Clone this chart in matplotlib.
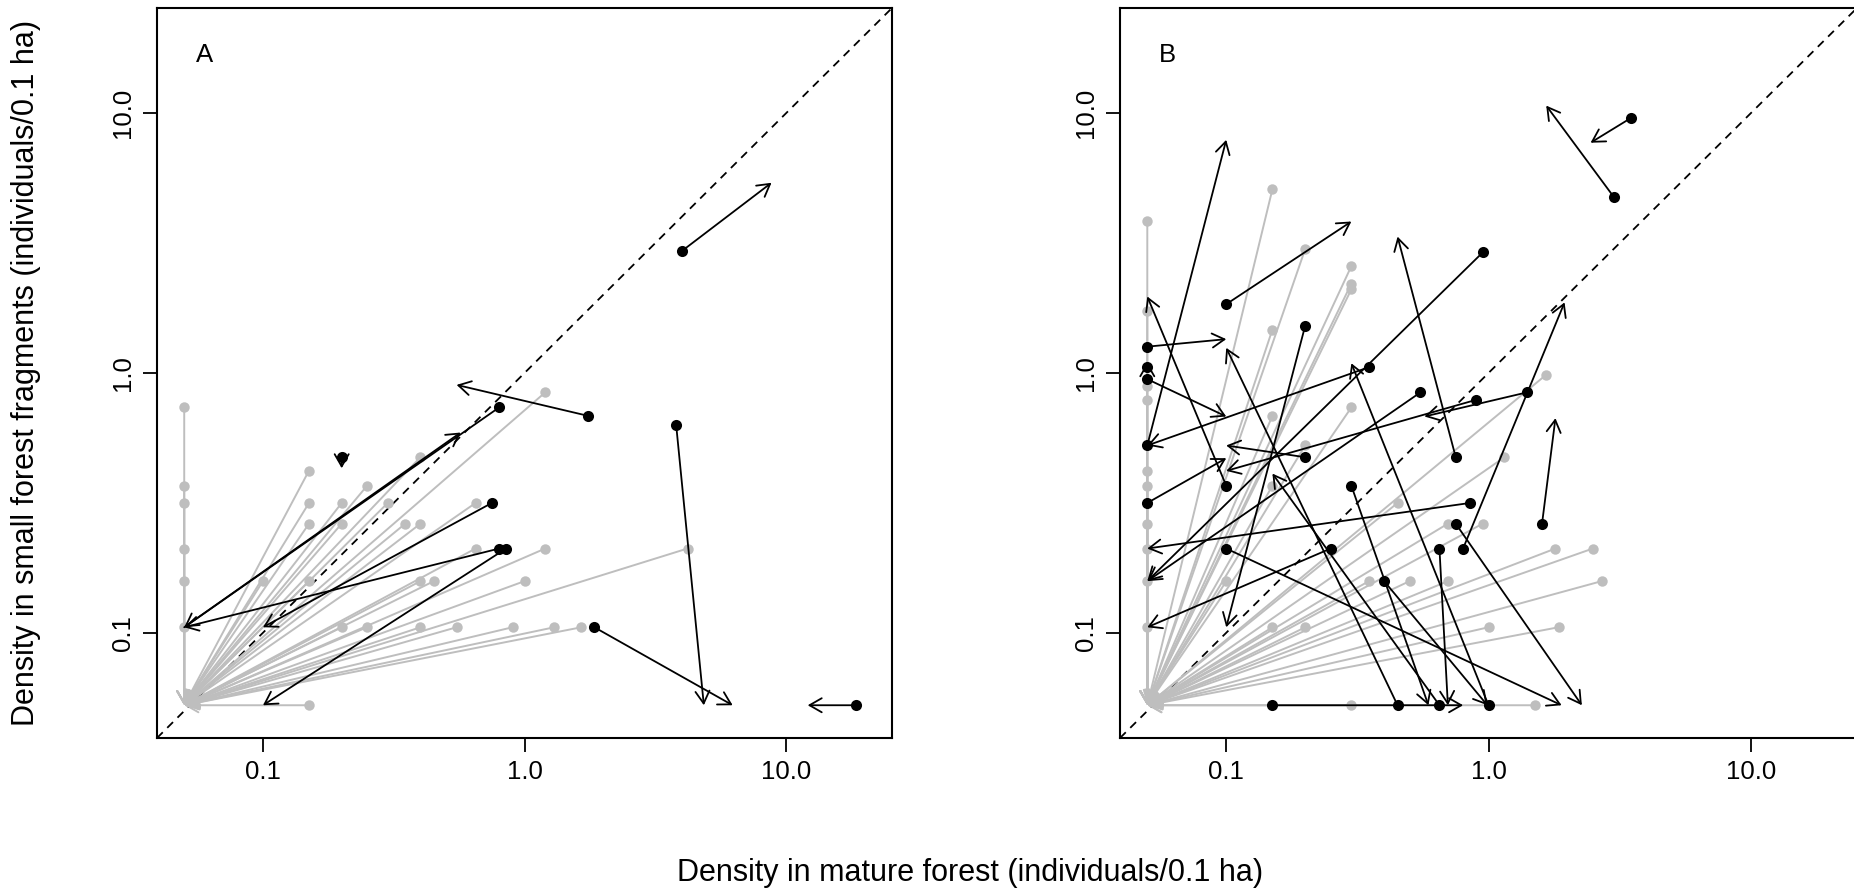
import numpy as np
import matplotlib
matplotlib.use("Agg")
import matplotlib.pyplot as plt

plt.rcParams["font.family"] = ["Liberation Sans", "DejaVu Sans"]

# --- data ------------------------------------------------------------------------------
# grey: species lost from the fragments (arrow from point to the zero corner)
CORNER = (0.05, 0.0526)

a_grey_x = [0.05, 0.05, 0.05, 0.05, 0.05, 0.05, 0.1, 0.15, 0.15, 0.15, 0.15, 0.15,
            0.2, 0.2, 0.2, 0.25, 0.25, 0.3, 0.35, 0.4, 0.4, 0.4, 0.4, 0.45, 0.55,
            0.65, 0.65, 0.9, 1.0, 1.2, 1.2, 1.3, 1.65, 4.2]
a_grey_y = [0.737, 0.368, 0.316, 0.211, 0.158, 0.105, 0.158, 0.421, 0.316, 0.263, 0.158,
            0.0526, 0.316, 0.263, 0.105, 0.368, 0.105, 0.316, 0.263, 0.474, 0.263, 0.158,
            0.105, 0.158, 0.105, 0.316, 0.211, 0.105, 0.158, 0.842, 0.211, 0.105, 0.105,
            0.211]

# black: species present in fragments (arrow from mature forest to fragment density)
a_x0 = [4.0, 1.75, 0.8, 0.75, 0.8, 0.85, 1.85, 3.8, 18.5, 0.2, 0.05]
a_y0 = [2.95, 0.684, 0.737, 0.316, 0.211, 0.211, 0.105, 0.632, 0.0526, 0.474, 0.105]
a_x1 = [8.8, 0.55, 0.05, 0.1, 0.05, 0.1, 6.25, 4.85, 12.1, 0.2, 0.57]
a_y1 = [5.4, 0.9, 0.105, 0.105, 0.105, 0.0526, 0.0526, 0.0526, 0.0526, 0.43, 0.59]
a_dot = [1, 1, 1, 1, 1, 1, 1, 1, 1, 1, 0]

b_grey_x = [0.05, 0.05, 0.05, 0.05, 0.05, 0.05, 0.05, 0.05, 0.05, 0.05, 0.1, 0.15, 0.15,
            0.15, 0.15, 0.15, 0.2, 0.2, 0.2, 0.3, 0.3, 0.3, 0.3, 0.3, 0.35, 0.45, 0.5,
            0.7, 0.7, 0.95, 1.0, 1.15, 1.5, 1.65, 1.8, 1.85, 2.5, 2.7]
b_grey_y = [3.84, 1.74, 0.895, 0.789, 0.421, 0.368, 0.263, 0.211, 0.158, 0.105, 0.158,
            5.1, 1.47, 0.684, 0.368, 0.105, 3.0, 0.526, 0.105, 2.58, 2.21, 2.1, 0.737,
            0.0526, 0.158, 0.316, 0.158, 0.263, 0.158, 0.263, 0.105, 0.474, 0.0526, 0.98,
            0.211, 0.105, 0.211, 0.158]

b_x0 = [3.5, 3.0, 0.8, 1.4, 0.9, 0.55, 0.95, 0.35, 0.05, 0.05, 0.05, 0.05, 0.1, 0.05,
        0.2, 0.1, 0.2, 0.75, 0.85, 1.6, 0.75, 0.65, 0.25, 0.1, 0.3, 1.0, 0.45, 0.65,
        0.15, 0.4]
b_y0 = [9.6, 4.77, 0.211, 0.842, 0.789, 0.842, 2.91, 1.053, 0.526, 1.263, 1.053, 0.947,
        0.368, 0.316, 0.474, 1.84, 1.52, 0.474, 0.316, 0.263, 0.263, 0.211, 0.211, 0.211,
        0.368, 0.0526, 0.0526, 0.0526, 0.0526, 0.158]
b_x1 = [2.45, 1.66, 1.95, 0.57, 0.1, 0.05, 0.05, 0.05, 0.1, 0.1, 0.05, 0.1, 0.05, 0.1,
        0.1, 0.3, 0.1, 0.45, 0.05, 1.8, 2.27, 0.7, 0.05, 1.9, 0.59, 0.3, 0.1, 0.15,
        0.8, 0.99]
b_y1 = [7.7, 10.7, 1.87, 0.68, 0.42, 0.158, 0.158, 0.526, 7.9, 1.35, 1.1, 0.68, 1.97,
        0.47, 0.526, 3.83, 0.105, 3.35, 0.211, 0.67, 0.0526, 0.0526, 0.105, 0.0526,
        0.0526, 1.09, 1.25, 0.41, 0.0526, 0.0526]
b_dot = [1] * len(b_x0)

panels = [
    ("A", a_grey_x, a_grey_y, a_x0, a_y0, a_x1, a_y1, a_dot),
    ("B", b_grey_x, b_grey_y, b_x0, b_y0, b_x1, b_y1, b_dot),
]

ticks = [0.1, 1.0, 10.0]
tick_labels = ["0.1", "1.0", "10.0"]
data_lim = (0.05, 20.0)

GREY = "#BEBEBE"
FS = 18.5
FS_LAB = 22
HEAD = "->,head_length=0.4,head_width=0.23"

# --- figure ------------------------------------------------------------------------------
W, H = 1854, 893
fig = plt.figure(figsize=(W / 100, H / 100), dpi=100)

# R-style 4% padding on the log axis
lo, hi = np.log10(data_lim)
pad = 0.04 * (hi - lo)
lim = (10 ** (lo - pad), 10 ** (hi + pad))

boxes = [(157, 8, 892, 738), (1120, 8, 1857, 738)]

for (label, gx, gy, x0, y0, x1, y1, dot), (l, t, r, b) in zip(panels, boxes):
    ax = fig.add_axes([l / W, 1 - b / H, (r - l) / W, (b - t) / H])
    ax.set_xscale("log")
    ax.set_yscale("log")
    ax.set_xlim(lim)
    ax.set_ylim(lim)

    ax.plot(lim, lim, ls=(0, (4.5, 3.5)), color="black", lw=1.3, zorder=1)

    for x, y in zip(gx, gy):
        ax.annotate("", xy=CORNER, xytext=(x, y), annotation_clip=False,
                    arrowprops=dict(arrowstyle=HEAD, mutation_scale=22, lw=1.4,
                                    color=GREY, shrinkA=0, shrinkB=0), zorder=2)
    ax.plot(gx, gy, "o", ms=7.5, color=GREY, mec="none", zorder=3)

    for xs, ys, xe, ye in zip(x0, y0, x1, y1):
        ax.annotate("", xy=(xe, ye), xytext=(xs, ys), annotation_clip=False,
                    arrowprops=dict(arrowstyle=HEAD, mutation_scale=22, lw=1.3,
                                    color="black", shrinkA=0, shrinkB=0), zorder=4)
    bx = [x for x, d in zip(x0, dot) if d]
    by = [y for y, d in zip(y0, dot) if d]
    ax.plot(bx, by, "o", ms=8, color="black", mec="none", zorder=5)

    ax.set_xticks(ticks)
    ax.set_xticklabels(tick_labels)
    ax.set_yticks(ticks)
    ax.set_yticklabels(tick_labels, rotation=90, va="center")
    ax.minorticks_off()
    ax.tick_params(length=10, width=1.3, pad=6, labelsize=FS, direction="out")
    for s in ax.spines.values():
        s.set_linewidth(1.5)

    ax.text(0.065, 0.935, label, transform=ax.transAxes, fontsize=FS,
            ha="center", va="center")

fig.text(26 / W, 1 - 373 / H, "Density in small forest fragments (individuals/0.1 ha)",
         rotation=90, ha="center", va="center", fontsize=FS_LAB)
fig.text(970 / W, 1 - 873 / H, "Density in mature forest (individuals/0.1 ha)",
         ha="center", va="center", fontsize=FS_LAB)

fig.savefig("out.png", dpi=100)
